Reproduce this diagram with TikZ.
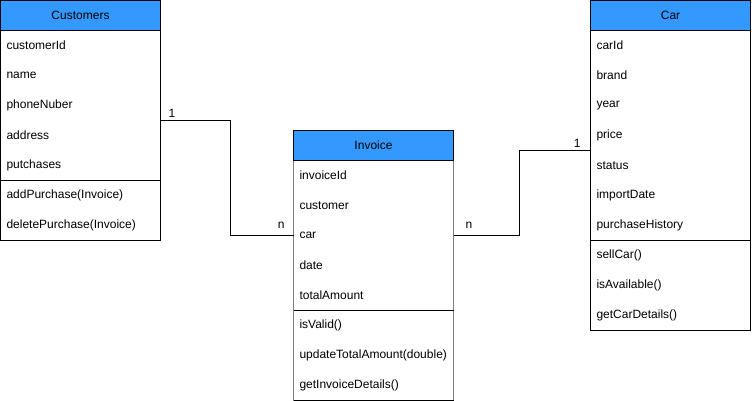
\documentclass[tikz,border=0pt]{standalone}
\usepackage{fontspec}
\setmainfont{Liberation Sans}
\usetikzlibrary{positioning}
\definecolor{headblue}{RGB}{51,153,255}
\definecolor{bordergray}{RGB}{128,128,128}
\begin{document}
\begin{tikzpicture}[x=1pt, y=-1pt, line width=1pt,
       every node/.style={font=\fontsize{12}{14}\selectfont, inner sep=0pt,
             outer sep=0pt},
       header/.style={draw=black, fill=headblue, minimum width=160pt,
             minimum height=30pt, anchor=north west},
       field/.style={minimum width=160pt, minimum height=30pt,
             text width=148pt, align=left},
       mult/.style={inner sep=0pt}]
\useasboundingbox (0,0) rectangle (752,401);
% Customers
\node[header] (cust) at (0.5,0.5) {Customers};
\foreach \n/\t [remember=\n as \last (initially cust)] in
    {cuid/customerId, cuname/name, cuphone/phoneNuber, cuaddr/address,
     cupurch/putchases, cuadd/addPurchase(Invoice), cudel/deletePurchase(Invoice)}
    \node[field, below=0pt of \last] (\n) {\t};
\draw (cust.north west) rectangle (cudel.south east);
\draw (cupurch.south west) -- (cupurch.south east);
% Invoice
\node[header] (inv) at (293.5,130.5) {Invoice};
\foreach \n/\t [remember=\n as \last (initially inv)] in
    {inid/invoiceId, incust/customer, incar/car, indate/date,
     intotal/totalAmount, invalid/isValid(), inupd/updateTotalAmount(double),
     indet/getInvoiceDetails()}
    \node[field, below=0pt of \last] (\n) {\t};
\draw[bordergray] (inv.south west) -- (indet.south west);
\draw[bordergray] (inv.south east) -- (indet.south east);
\draw (indet.south west) -- (indet.south east);
\draw (intotal.south west) -- (intotal.south east);
% Car
\node[header] (car) at (590.5,0.5) {Car};
\foreach \n/\t [remember=\n as \last (initially car)] in
    {caid/carId, cabrand/brand, cayear/year, caprice/price, castatus/status,
     caimport/importDate, cahist/purchaseHistory, casell/sellCar(),
     caavail/isAvailable(), cadet/getCarDetails()}
    \node[field, below=0pt of \last] (\n) {\t};
\draw (car.north west) rectangle (cadet.south east);
\draw (cahist.south west) -- (cahist.south east);
% associations
\draw (cuphone.south east) node[mult, above right, xshift=8pt, yshift=3pt] {1}
    -- ++(70,0) |- (incar.west) node[mult, above left, xshift=-9pt, yshift=7pt] {n};
\draw (incar.east) node[mult, above right, xshift=12pt, yshift=7pt] {n}
    -- ++(66,0) |- (caprice.south west) node[mult, above left, xshift=-10pt, yshift=3pt] {1};
\end{tikzpicture}
\end{document}
